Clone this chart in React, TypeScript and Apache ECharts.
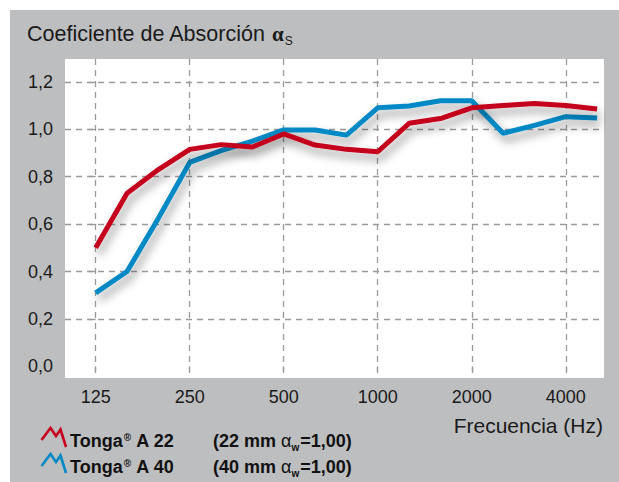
import { useEffect, useRef } from 'react';
import * as echarts from 'echarts';

// Third-octave band centre frequencies (Hz)
const frequencies = ['125', '160', '200', '250', '315', '400', '500', '630', '800', '1000', '1250', '1600', '2000', '2500', '3150', '4000', '5000'];
// Sound absorption coefficient αs
const tongaA22 = [0.50, 0.73, 0.83, 0.915, 0.935, 0.925, 0.98, 0.933, 0.915, 0.905, 1.025, 1.045, 1.09, 1.10, 1.108, 1.10, 1.085];
const tongaA40 = [0.31, 0.40, 0.625, 0.86, 0.91, 0.95, 0.997, 0.997, 0.975, 1.09, 1.098, 1.12, 1.12, 0.983, 1.016, 1.053, 1.047];

const xTickLabels = ['125', '250', '500', '1000', '2000', '4000'];
const yTickValues = [0, 0.2, 0.4, 0.6, 0.8, 1.0, 1.2];
const yGridValues = [0.2, 0.4, 0.6, 0.8, 1.0, 1.2];

const seriesNames = ['Tonga® A 22', 'Tonga® A 40'];
const seriesThickness = ['22', '40'];
const seriesWeighted = ['1,00', '1,00'];
const seriesColors = ['#c5001d', '#0089c5'];

const FONT = 'Liberation Sans, Arial, sans-serif';

export default function App() {
  const ref = useRef<HTMLDivElement>(null);

  useEffect(() => {
    if (!ref.current) return;
    const chart = echarts.init(ref.current, null, { renderer: 'svg' });

    const xTickIdx = xTickLabels.map((l) => frequencies.indexOf(l));

    const mkSeries = (name: string, values: number[], color: string) => ({
      type: 'line',
      name,
      data: values.map((v, i) => [i, v]),
      symbol: 'none',
      lineStyle: {
        color,
        width: 5,
        shadowColor: 'rgba(0,0,0,0.4)',
        shadowBlur: 10,
        shadowOffsetX: 3,
        shadowOffsetY: 6,
      },
      z: 3,
    });

    const legendGraphics: any[] = [];
    seriesNames.forEach((name, k) => {
      const dy = k * 26;
      legendGraphics.push({
        type: 'polyline',
        shape: {
          points: [
            [41.5, 440 + dy],
            [50.5, 428 + dy],
            [56, 436 + dy],
            [60.5, 429.5 + dy],
            [66, 447 + dy],
          ],
        },
        style: { stroke: seriesColors[k], lineWidth: 2.6, fill: null, lineJoin: 'miter' },
      });
      const parts = name.split('®');
      legendGraphics.push({
        type: 'text',
        x: 70,
        y: 441 + dy,
        style: {
          text: `{b|${parts[0]}}{sup|®}{b|${parts[1]}}`,
          verticalAlign: 'middle',
          rich: {
            b: { fontSize: 18, fontWeight: 'bold', fontFamily: FONT, fill: '#111', lineHeight: 22 },
            sup: { fontSize: 10, fontWeight: 'bold', fontFamily: FONT, fill: '#111', lineHeight: 12, verticalAlign: 'top', padding: [2, 1, 0, 1] },
          },
        },
      });
      legendGraphics.push({
        type: 'text',
        x: 213,
        y: 441 + dy,
        style: {
          text: `{b|(${seriesThickness[k]} mm }{a|α}{sub|w}{b|=${seriesWeighted[k]})}`,
          verticalAlign: 'middle',
          rich: {
            b: { fontSize: 18, fontWeight: 'bold', fontFamily: FONT, fill: '#111', lineHeight: 22 },
            a: { fontSize: 18, fontWeight: 'normal', fontFamily: FONT, fill: '#111', lineHeight: 22 },
            sub: { fontSize: 10, fontWeight: 'bold', fontFamily: FONT, fill: '#111', lineHeight: 10, verticalAlign: 'bottom', padding: [0, 1, 0, 0] },
          },
        },
      });
    });

    const option: any = {
      animation: false,
      backgroundColor: '#ffffff',
      grid: {
        left: 65,
        top: 59,
        right: 15,
        bottom: 104,
        show: true,
        backgroundColor: '#ffffff',
        borderWidth: 0,
      },
      xAxis: {
        type: 'value',
        min: -0.98,
        max: 16.22,
        axisLine: { show: false },
        axisTick: {
          show: true,
          length: 5,
          customValues: xTickIdx,
          lineStyle: { color: '#9a9a9a', width: 1.3 },
        },
        axisLabel: {
          customValues: xTickIdx,
          formatter: (v: number) => frequencies[Math.round(v)] ?? '',
          fontSize: 18,
          fontFamily: FONT,
          color: '#1a1a1a',
          margin: 10,
        },
        splitLine: {
          show: true,
          lineStyle: { color: '#9a9a9a', width: 1.3, type: [6, 5] },
        },
      },
      yAxis: {
        type: 'value',
        min: -0.049,
        max: 1.296,
        axisLine: { show: false },
        axisTick: {
          show: true,
          length: 7,
          customValues: yGridValues,
          lineStyle: { color: '#9a9a9a', width: 1.3 },
        },
        axisLabel: {
          customValues: yTickValues,
          formatter: (v: number) => v.toFixed(1).replace('.', ','),
          fontSize: 18,
          fontFamily: FONT,
          color: '#1a1a1a',
          margin: 12,
        },
        splitLine: {
          show: true,
          lineStyle: { color: '#9a9a9a', width: 1.3, type: [6, 5] },
        },
      },
      graphic: [
        {
          type: 'rect',
          z: -100,
          silent: true,
          shape: { x: 10, y: 10, width: 609, height: 472 },
          style: { fill: '#bdbec0' },
        },
        {
          type: 'text',
          x: 27,
          y: 34,
          style: {
            text: '{t|Coeficiente de Absorción }{a|α}{s|S}',
            verticalAlign: 'middle',
            rich: {
              t: { fontSize: 21.5, fontFamily: FONT, fill: '#1a1a1a', lineHeight: 26 },
              a: { fontSize: 21, fontWeight: 'bold', fontFamily: 'Liberation Serif, serif', fill: '#1a1a1a', lineHeight: 26 },
              s: { fontSize: 12, fontFamily: FONT, fill: '#1a1a1a', lineHeight: 13, verticalAlign: 'bottom', padding: [0, 0, 0, 1] },
            },
          },
        },
        {
          type: 'text',
          x: 603,
          y: 425,
          style: {
            text: 'Frecuencia (Hz)',
            align: 'right',
            verticalAlign: 'middle',
            fontSize: 21,
            fontFamily: FONT,
            fill: '#1a1a1a',
          },
        },
        ...legendGraphics,
      ],
      series: [
        mkSeries(seriesNames[1], tongaA40, seriesColors[1]),
        mkSeries(seriesNames[0], tongaA22, seriesColors[0]),
      ],
    };

    chart.setOption(option);
    return () => chart.dispose();
  }, []);

  return (
    <div
      ref={ref}
      style={{ position: 'fixed', left: 0, top: 0, width: 619, height: 482 }}
    />
  );
}
